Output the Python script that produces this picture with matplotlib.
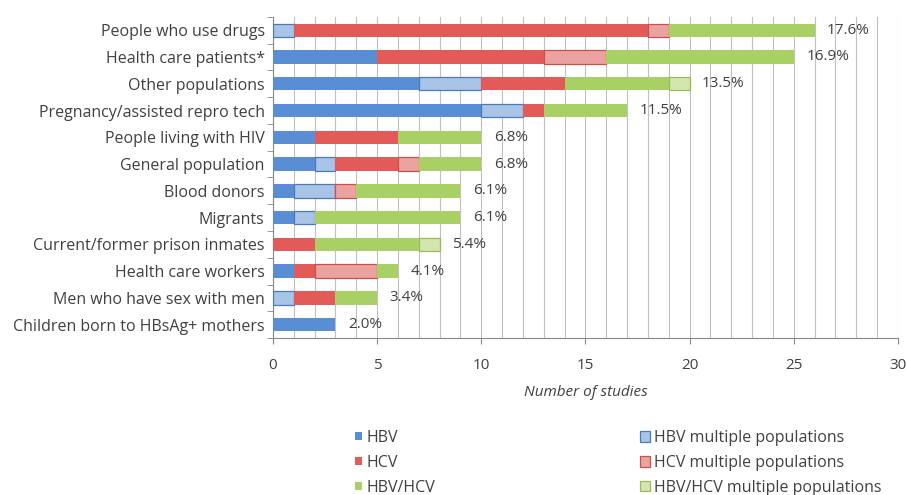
import numpy as np
import matplotlib
matplotlib.use("Agg")
import matplotlib.pyplot as plt

plt.rcParams['font.family'] = ['Open Sans', 'DejaVu Sans']

categories = [
    "People who use drugs",
    "Health care patients*",
    "Other populations",
    "Pregnancy/assisted repro tech",
    "People living with HIV",
    "General population",
    "Blood donors",
    "Migrants",
    "Current/former prison inmates",
    "Health care workers",
    "Men who have sex with men",
    "Children born to HBsAg+ mothers",
]

hbv = [0, 5, 7, 10, 2, 2, 1, 1, 0, 1, 0, 3]
hbv_multi = [1, 0, 3, 2, 0, 1, 2, 1, 0, 0, 1, 0]
hcv = [17, 8, 4, 1, 4, 3, 0, 0, 2, 1, 2, 0]
hcv_multi = [1, 3, 0, 0, 0, 1, 1, 0, 0, 3, 0, 0]
hbv_hcv = [7, 9, 5, 4, 4, 3, 5, 7, 5, 1, 2, 0]
hbv_hcv_multi = [0, 0, 1, 0, 0, 0, 0, 0, 1, 0, 0, 0]

series = [
    ("HBV", hbv, "#5a8ed4", "#4f81bd"),
    ("HBV multiple populations", hbv_multi, "#a8c4e6", "#4a7ab8"),
    ("HCV", hcv, "#e35b58", "#d04f4c"),
    ("HCV multiple populations", hcv_multi, "#eba3a2", "#c8504d"),
    ("HBV/HCV", hbv_hcv, "#a8d064", "#9bc258"),
    ("HBV/HCV multiple populations", hbv_hcv_multi, "#d3e6b0", "#9bbb59"),
]

fig = plt.figure(figsize=(9.07, 4.95), dpi=100)
ax = fig.add_axes([0.301, 0.317, 0.689, 0.649])

y = np.arange(len(categories))
left = np.zeros(len(categories))
handles = {}
for name, vals, fc, ec in series:
    vals = np.array(vals, dtype=float)
    multi = "multiple" in name
    # skip empty segments so no stray edge lines get drawn
    keep = vals > 0
    bars = ax.barh(y[keep], vals[keep], left=left[keep], height=0.5, color=fc,
                   edgecolor=ec if multi else fc, linewidth=0.9 if multi else 0,
                   label=name, zorder=3)
    handles[name] = bars
    left += vals

totals = left
grand = totals.sum()
for yi, t in zip(y, totals):
    ax.text(t + 0.6, yi, "%.1f%%" % (t / grand * 100), va='center', ha='left',
            fontsize=11, color='#404040')

ax.set_xlim(0, 30)
ax.set_ylim(len(categories) - 0.5, -0.5)
ax.set_xticks(np.arange(0, 31, 5))
ax.set_xticks(np.arange(0, 31, 1), minor=True)
ax.xaxis.grid(True, which='both', color='#c0c0c0', linewidth=0.8, zorder=0)
ax.set_axisbelow(True)
ax.set_yticks(y)
ax.set_yticklabels(categories, fontsize=11.5, color='#404040')
ax.set_yticks(np.arange(-0.5, len(categories), 1), minor=True)
ax.tick_params(axis='y', which='major', length=0, pad=6)
ax.tick_params(axis='y', which='minor', length=4, color='#888888')
ax.tick_params(axis='x', which='major', length=4, color='#888888', labelsize=11,
               labelcolor='#404040', pad=10)
ax.tick_params(axis='x', which='minor', length=0)
for s in ['top', 'right']:
    ax.spines[s].set_visible(False)
for s in ['left', 'bottom']:
    ax.spines[s].set_color('#888888')
ax.set_xlabel("Number of studies", fontsize=11, style='italic', color='#404040', labelpad=9)

leg_kw = dict(frameon=False, fontsize=11.5, handletextpad=0.25, labelspacing=0.55,
              labelcolor='#404040', borderaxespad=0, borderpad=0)
fig.legend([handles[n] for n in ["HBV", "HCV", "HBV/HCV"]],
           ["HBV", "HCV", "HBV/HCV"],
           loc='upper left', bbox_to_anchor=(355 / 907, 1 - 430 / 495),
           handlelength=0.45, handleheight=0.35, **leg_kw)
fig.legend([handles[n] for n in ["HBV multiple populations", "HCV multiple populations",
                                 "HBV/HCV multiple populations"]],
           ["HBV multiple populations", "HCV multiple populations",
            "HBV/HCV multiple populations"],
           loc='upper left', bbox_to_anchor=(640 / 907, 1 - 430 / 495),
           handlelength=0.65, handleheight=0.65, **leg_kw)

fig.savefig("out.png", dpi=100)
